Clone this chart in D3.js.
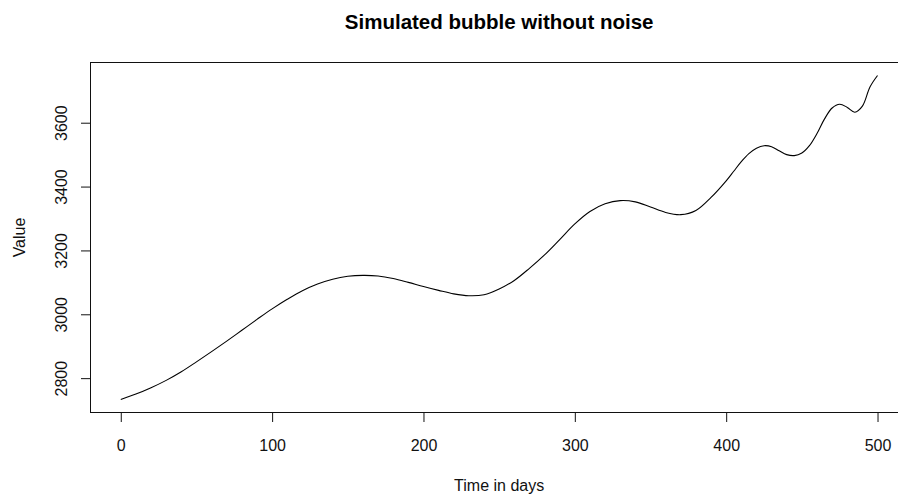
<!DOCTYPE html>
<html>
<head>
<meta charset="utf-8">
<script src="https://cdn.jsdelivr.net/npm/d3@7"></script>
<style>
  html, body { margin: 0; padding: 0; background: #fff; }
  svg { display: block; font-family: "Liberation Sans", Arial, sans-serif; }
</style>
</head>
<body>
<svg id="chart" width="898" height="494"></svg>
<script>
// Simulated price path (time in days, value)
const days = [0, 10, 20, 30, 40, 50, 60, 70, 80, 90, 100, 110, 120, 130, 140, 150, 160, 170, 180, 190,
  200, 210, 220, 230, 240, 250, 260, 270, 280, 290, 300, 310, 320, 330, 340, 350, 360, 370, 380, 390,
  400, 405, 410, 415, 420, 425, 430, 435, 440, 445, 450, 455, 460, 465, 470, 475, 480, 485, 490, 495, 500];
const values = [2733, 2750, 2770, 2793, 2820, 2851, 2883, 2916, 2950, 2984, 3017, 3047, 3074, 3095, 3110, 3119, 3122, 3120, 3112, 3100,
  3087, 3075, 3064, 3058, 3061, 3079, 3106, 3144, 3186, 3234, 3283, 3322, 3346, 3356, 3352, 3336, 3319, 3312, 3325, 3366,
  3418, 3448, 3478, 3503, 3520, 3528, 3525, 3512, 3500, 3497, 3505, 3528, 3566, 3612, 3646, 3658, 3648, 3633, 3652, 3712, 3748];

const xTicks = [0, 100, 200, 300, 400, 500];
const yTicks = [2800, 3000, 3200, 3400, 3600];

const titleText = "Simulated bubble without noise";
const xLabel = "Time in days";
const yLabel = "Value";

const data = days.map((d, i) => ({ day: d, value: values[i] }));

const svg = d3.select("#chart");

// plot region (R-style 4% padding on both axes)
const plotLeft = 90.5, plotRight = 907.8, plotTop = 62.5, plotBottom = 412.5;

const xMin = d3.min(days), xMax = d3.max(days);
const yMin = d3.min(values), yMax = d3.max(values);
const xPad = (xMax - xMin) * 0.04, yPad = (yMax - yMin) * 0.04;

const x = d3.scaleLinear().domain([xMin - xPad, xMax + xPad]).range([plotLeft, plotRight]);
const y = d3.scaleLinear().domain([yMin - yPad, yMax + yPad]).range([plotBottom, plotTop]);

const ink = "#111";

// box
svg.append("rect")
  .attr("x", plotLeft).attr("y", plotTop)
  .attr("width", plotRight - plotLeft).attr("height", plotBottom - plotTop)
  .attr("fill", "none").attr("stroke", ink).attr("stroke-width", 1);

// x axis
const xAxis = d3.axisBottom(x).tickValues(xTicks).tickSize(9.5).tickFormat(d3.format("d"));
const gx = svg.append("g").attr("transform", `translate(0,${plotBottom})`).call(xAxis);
gx.select(".domain").remove();
gx.selectAll(".tick line").attr("stroke", ink);
gx.selectAll(".tick text")
  .attr("fill", ink)
  .attr("font-size", 16)
  .attr("font-family", "Liberation Sans, Arial, sans-serif")
  .attr("dy", null)
  .attr("y", 38);

// y axis with rotated labels
const yAxis = d3.axisLeft(y).tickValues(yTicks).tickSize(9.5).tickFormat(d3.format("d"));
const gy = svg.append("g").attr("transform", `translate(${plotLeft},0)`).call(yAxis);
gy.select(".domain").remove();
gy.selectAll(".tick line").attr("stroke", ink);
gy.selectAll(".tick text")
  .attr("fill", ink)
  .attr("font-size", 16)
  .attr("font-family", "Liberation Sans, Arial, sans-serif")
  .attr("x", null).attr("dy", null)
  .attr("text-anchor", "middle")
  .attr("transform", "translate(-24,0) rotate(-90)");

// line
const line = d3.line()
  .x(d => x(d.day))
  .y(d => y(d.value))
  .curve(d3.curveCatmullRom.alpha(0.5));

svg.append("path")
  .datum(data)
  .attr("d", line)
  .attr("fill", "none")
  .attr("stroke", "#000")
  .attr("stroke-width", 1.1);

// title and axis labels
const cx = (plotLeft + plotRight) / 2, cy = (plotTop + plotBottom) / 2;
svg.append("text")
  .attr("x", cx).attr("y", 28.5)
  .attr("text-anchor", "middle")
  .attr("font-size", 20.5).attr("font-weight", "bold")
  .attr("fill", "#000")
  .text(titleText);

svg.append("text")
  .attr("x", cx).attr("y", 491)
  .attr("text-anchor", "middle")
  .attr("font-size", 16)
  .attr("fill", ink)
  .text(xLabel);

svg.append("text")
  .attr("transform", `translate(25,${cy}) rotate(-90)`)
  .attr("text-anchor", "middle")
  .attr("font-size", 16)
  .attr("fill", ink)
  .text(yLabel);
</script>
</body>
</html>
